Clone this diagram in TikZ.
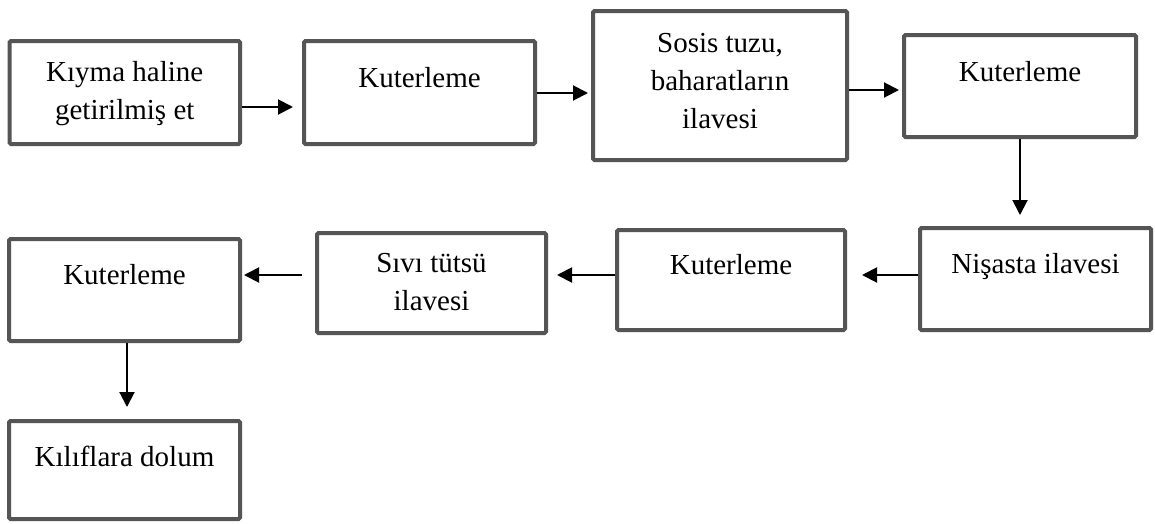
\documentclass[tikz,border=0pt]{standalone}
\usepackage{fontspec}
\setmainfont{Liberation Serif}
\usetikzlibrary{arrows.meta}
\definecolor{boxgray}{HTML}{555555}
\begin{document}
\begin{tikzpicture}[x=1pt,y=-1pt,
  stagebox/.style={draw=boxgray,line width=4pt,rounded corners=1.5pt,fill=white,inner sep=0pt},
  txt/.style={font=\fontsize{29}{38}\selectfont,align=center,anchor=base,inner sep=0pt},
  arr/.style={draw=black,line width=2pt,-{Triangle[length=15pt,width=15pt]}}]
\useasboundingbox[fill=white] (0,0) rectangle (1155,523);
% boxes
\node[stagebox,minimum width=230.5pt,minimum height=103pt] (b1) at (124.75,92.5) {};
\node[stagebox,minimum width=231pt,minimum height=103pt] (b2) at (419.5,92.5) {};
\node[stagebox,minimum width=254pt,minimum height=149pt] (b3) at (720,85.5) {};
\node[stagebox,minimum width=232pt,minimum height=102pt] (b4) at (1020,86) {};
\node[stagebox,minimum width=231pt,minimum height=102pt] (b5) at (1035.5,279) {};
\node[stagebox,minimum width=228pt,minimum height=100pt] (b6) at (731,280) {};
\node[stagebox,minimum width=229pt,minimum height=100pt] (b7) at (431.5,283) {};
\node[stagebox,minimum width=231pt,minimum height=102pt] (b8) at (124.5,290) {};
\node[stagebox,minimum width=231pt,minimum height=98pt] (b9) at (124.5,470) {};
% texts (anchor = baseline of last line)
\node[txt] (t1) at (124.75,119) {Kıyma haline\\getirilmiş et};
\node[txt] (t2) at (419.5,87) {Kuterleme};
\node[txt] (t3) at (720,128) {Sosis tuzu,\\baharatların\\ilavesi};
\node[txt] (t4) at (1020,81) {Kuterleme};
\node[txt] (t5) at (1035.5,273) {Nişasta ilavesi};
\node[txt] (t6) at (731,274) {Kuterleme};
\node[txt] (t7) at (431.5,310) {Sıvı tütsü\\ilavesi};
\node[txt] (t8) at (124.5,284) {Kuterleme};
\node[txt] (t9) at (124.5,466) {Kılıflara dolum};
% connectors
\draw[arr,shorten >=9pt] (b1.east |- 0,107) -- (b2.west |- 0,107);
\draw[arr,shorten >=3pt] (b2.east |- 0,93) -- (b3.west |- 0,93);
\draw[arr,shorten >=3pt] (b3.east |- 0,90) -- (b4.west |- 0,90);
\draw[arr,shorten >=11pt] (b4.south) -- (b5.north -| b4.south);
\draw[arr,shorten >=15pt] (b5.west |- 0,275) -- (b6.east |- 0,275);
\draw[arr,shorten >=9pt] (b6.west |- 0,275) -- (b7.east |- 0,275);
\draw[arr,shorten <=13pt,shorten >=2pt] (b7.west |- 0,275) -- (b8.east |- 0,275);
\draw[arr,shorten >=12pt] (b8.south -| 127,0) -- (b9.north -| 127,0);
\end{tikzpicture}
\end{document}
